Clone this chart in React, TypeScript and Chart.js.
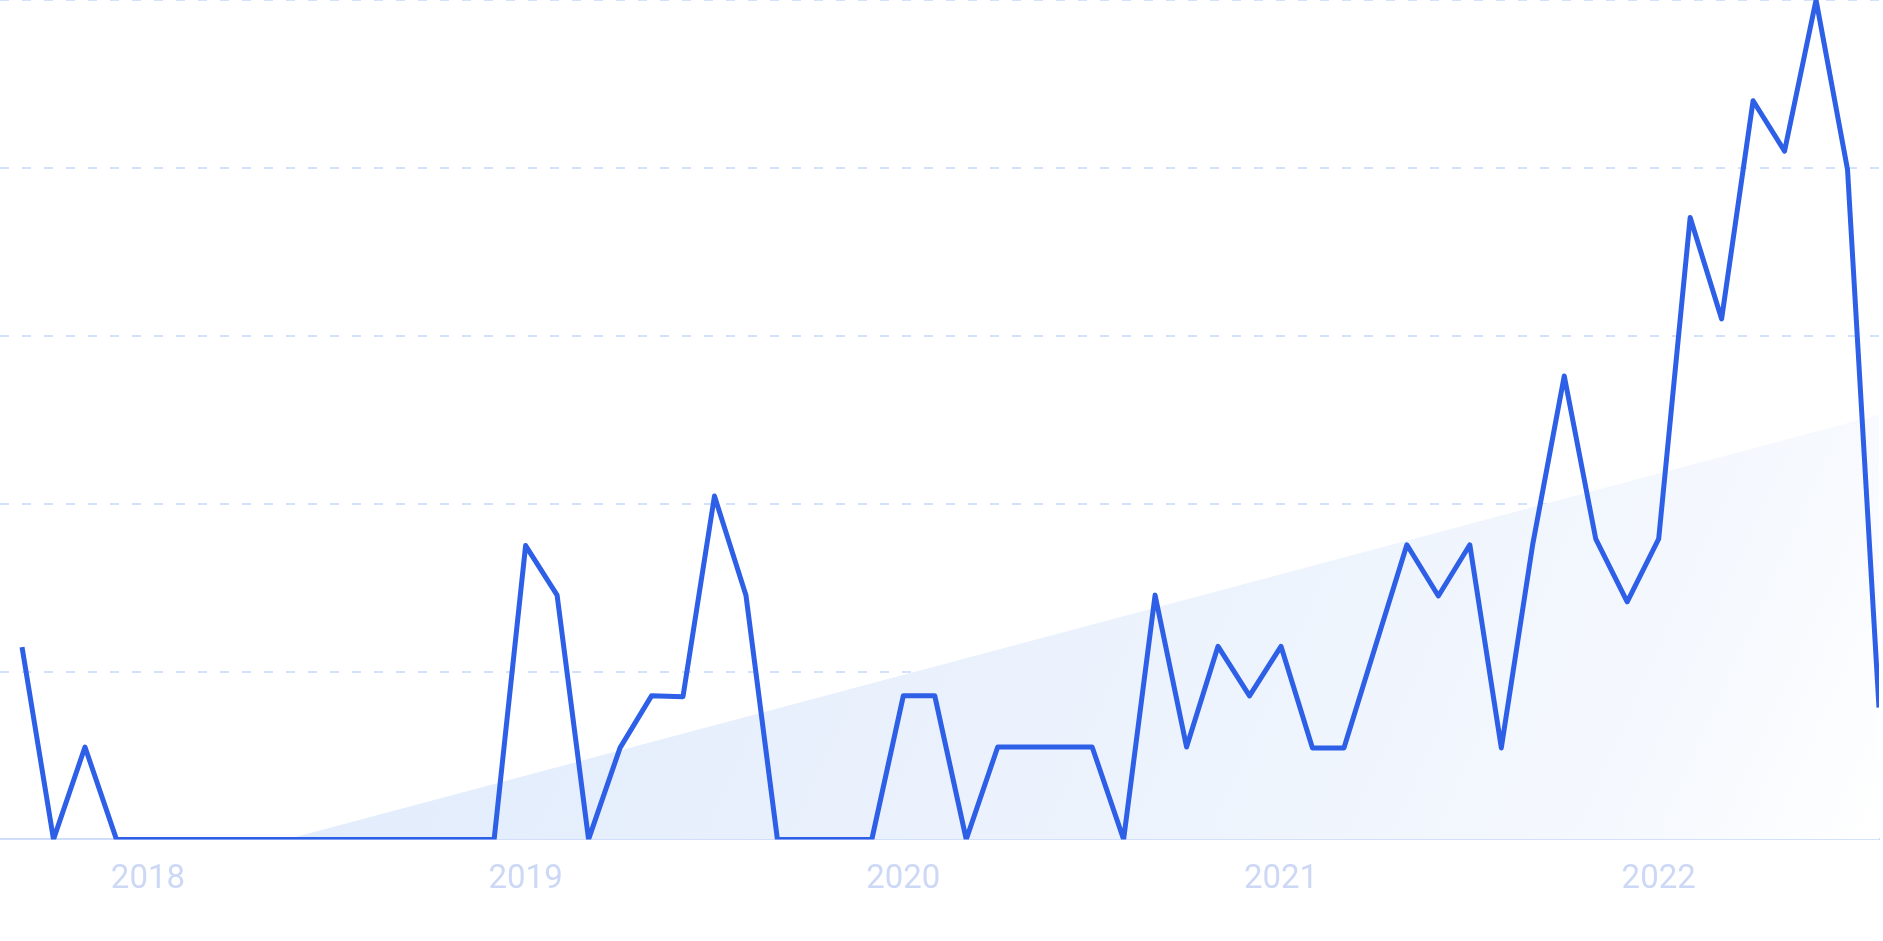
import React, { useEffect, useRef } from "react";
import { Chart, registerables } from "chart.js";

Chart.register(...registerables);

const months = [
  "2017-09", "2017-10", "2017-11", "2017-12",
  "2018-01", "2018-02", "2018-03", "2018-04", "2018-05", "2018-06", "2018-07", "2018-08", "2018-09", "2018-10", "2018-11", "2018-12",
  "2019-01", "2019-02", "2019-03", "2019-04", "2019-05", "2019-06", "2019-07", "2019-08", "2019-09", "2019-10", "2019-11", "2019-12",
  "2020-01", "2020-02", "2020-03", "2020-04", "2020-05", "2020-06", "2020-07", "2020-08", "2020-09", "2020-10", "2020-11", "2020-12",
  "2021-01", "2021-02", "2021-03", "2021-04", "2021-05", "2021-06", "2021-07", "2021-08", "2021-09", "2021-10", "2021-11", "2021-12",
  "2022-01", "2022-02", "2022-03", "2022-04", "2022-05", "2022-06", "2022-07", "2022-08",
];

const values = [
  22.9, 0, 11, 0,
  0, 0, 0, 0, 0, 0, 0, 0, 0, 0, 0, 0,
  35, 29.1, 0, 10.9, 17.1, 17.0, 40.9, 29.1, 0, 0, 0, 0,
  17.1, 17.1, 0, 11, 11, 11, 11, 0, 29.1, 11, 23, 17.1,
  23, 10.9, 10.9, 23, 35.1, 29, 35.1, 10.9, 35.2, 55.2, 35.8, 28.3,
  35.8, 74.1, 62, 88, 82, 100, 79.8, 15.7,
];

// trend (fill) line: two end points
const trendX = [-0.7, 59];
const trendY = [-9.1, 50.6];

const yearTickIdx = [4, 16, 28, 40, 52];
const yearLabels = ["2018", "2019", "2020", "2021", "2022"];

export default function App() {
  const ref = useRef<HTMLCanvasElement | null>(null);

  useEffect(() => {
    if (!ref.current) return;
    const chart = new Chart(ref.current, {
      type: "line",
      data: {
        labels: months,
        datasets: [
          {
            label: "value",
            data: values.map((v, i) => ({ x: i, y: v })),
            borderColor: "#2e5fe7",
            borderWidth: 5,
            borderJoinStyle: "round",
            pointRadius: 0,
            tension: 0,
            fill: false,
          },
          {
            label: "trend",
            data: trendX.map((x, i) => ({ x, y: trendY[i] })),
            borderWidth: 0,
            borderColor: "rgba(0,0,0,0)",
            pointRadius: 0,
            tension: 0,
            fill: "origin",
            backgroundColor: (c: any) => {
              const chart = c.chart;
              const area = chart.chartArea;
              if (!area) return "rgba(225,236,252,1)";
              const g = chart.ctx.createLinearGradient(area.left, area.top, area.right, area.bottom);
              g.addColorStop(0, "#dbe8fb");
              g.addColorStop(0.4, "#e5eefc");
              g.addColorStop(0.7, "#eef4fd");
              g.addColorStop(0.9, "#f6f9fe");
              g.addColorStop(1, "#ffffff");
              return g;
            },
          },
        ],
      },
      options: {
        animation: false,
        responsive: true,
        maintainAspectRatio: false,
        devicePixelRatio: 1,
        layout: { padding: { top: 0, left: 0, right: 4, bottom: 20 } },
        plugins: { legend: { display: false }, tooltip: { enabled: false } },
        scales: {
          x: {
            type: "linear",
            min: -0.7,
            max: 59,
            grid: { display: false, drawTicks: false },
            border: { display: true, color: "#d0ddfa", width: 2 },
            afterBuildTicks: (axis: any) => {
              axis.ticks = yearTickIdx.map((v) => ({ value: v }));
            },
            ticks: {
              autoSkip: false,
              maxRotation: 0,
              padding: 21,
              color: "#ccd8f5",
              font: { family: "Roboto", size: 33 },
              callback: (value: any) => {
                const k = yearTickIdx.indexOf(Number(value));
                return k >= 0 ? yearLabels[k] : "";
              },
            },
          },
          y: {
            min: 0,
            max: 100,
            ticks: { display: false, stepSize: 20 },
            grid: { color: "#d4e1fd", lineWidth: 2, drawTicks: false },
            border: { display: false, dash: [9, 13] },
          },
        },
      },
    });
    return () => chart.destroy();
  }, []);

  return (
    <div style={{ position: "fixed", left: 0, top: 0, width: "100vw", height: "100vh" }}>
      <canvas ref={ref} />
    </div>
  );
}
